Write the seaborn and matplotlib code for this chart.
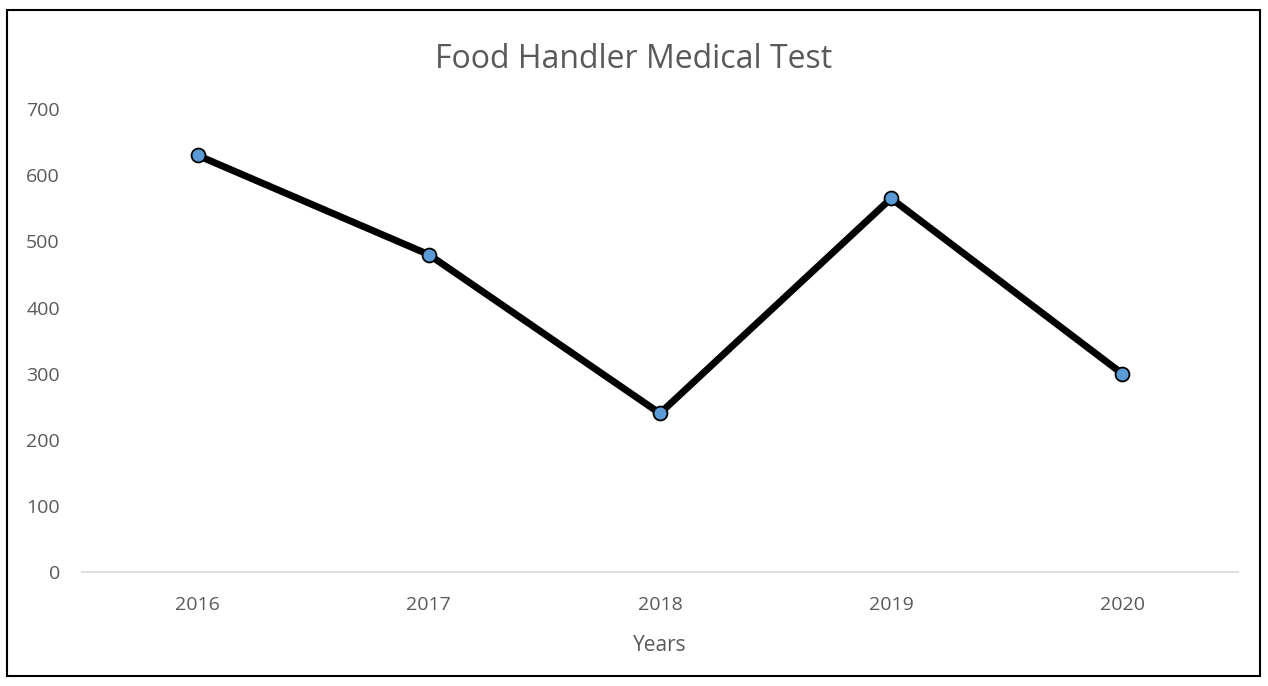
import pandas as pd
import matplotlib.pyplot as plt
import seaborn as sns
from matplotlib.patches import Rectangle

# Datos
years = ['2016', '2017', '2018', '2019', '2020']
tests = [630, 480, 240, 565, 300]

data = pd.DataFrame({'Years': years, 'Tests': tests})

sns.set_style('white')
plt.rcParams['font.family'] = ['Open Sans', 'DejaVu Sans']

fig = plt.figure(figsize=(12.68, 6.86), dpi=100)
# Marco negro del gráfico
fig.patches.append(Rectangle((7 / 1268, 10 / 686), 1253 / 1268, 666 / 686,
                             transform=fig.transFigure, fill=False,
                             edgecolor='black', linewidth=1.5))
ax = fig.add_axes([0.0647, 0.166, 0.9115, 0.675])

sns.lineplot(x='Years', y='Tests', data=data, ax=ax, color='black',
             linewidth=5, marker='o', markersize=10,
             markerfacecolor='#5B9BD5', markeredgecolor='black',
             markeredgewidth=1.3)

ax.set_xlim(-0.5, 4.5)
ax.set_ylim(0, 700)
ax.set_yticks(range(0, 701, 100))

for side in ['top', 'right', 'left']:
    ax.spines[side].set_visible(False)
ax.spines['bottom'].set_color('#D9D9D9')
ax.spines['bottom'].set_linewidth(1.2)

ax.tick_params(axis='both', length=0, labelsize=14, colors='#595959')
ax.tick_params(axis='y', pad=16)
ax.tick_params(axis='x', pad=17)

ax.set_ylabel('')
ax.set_xlabel('Years', fontsize=15, color='#595959', labelpad=15)
fig.suptitle('Food Handler Medical Test', fontsize=23, color='#595959',
             y=0.937)

plt.savefig('out.png', dpi=100)
